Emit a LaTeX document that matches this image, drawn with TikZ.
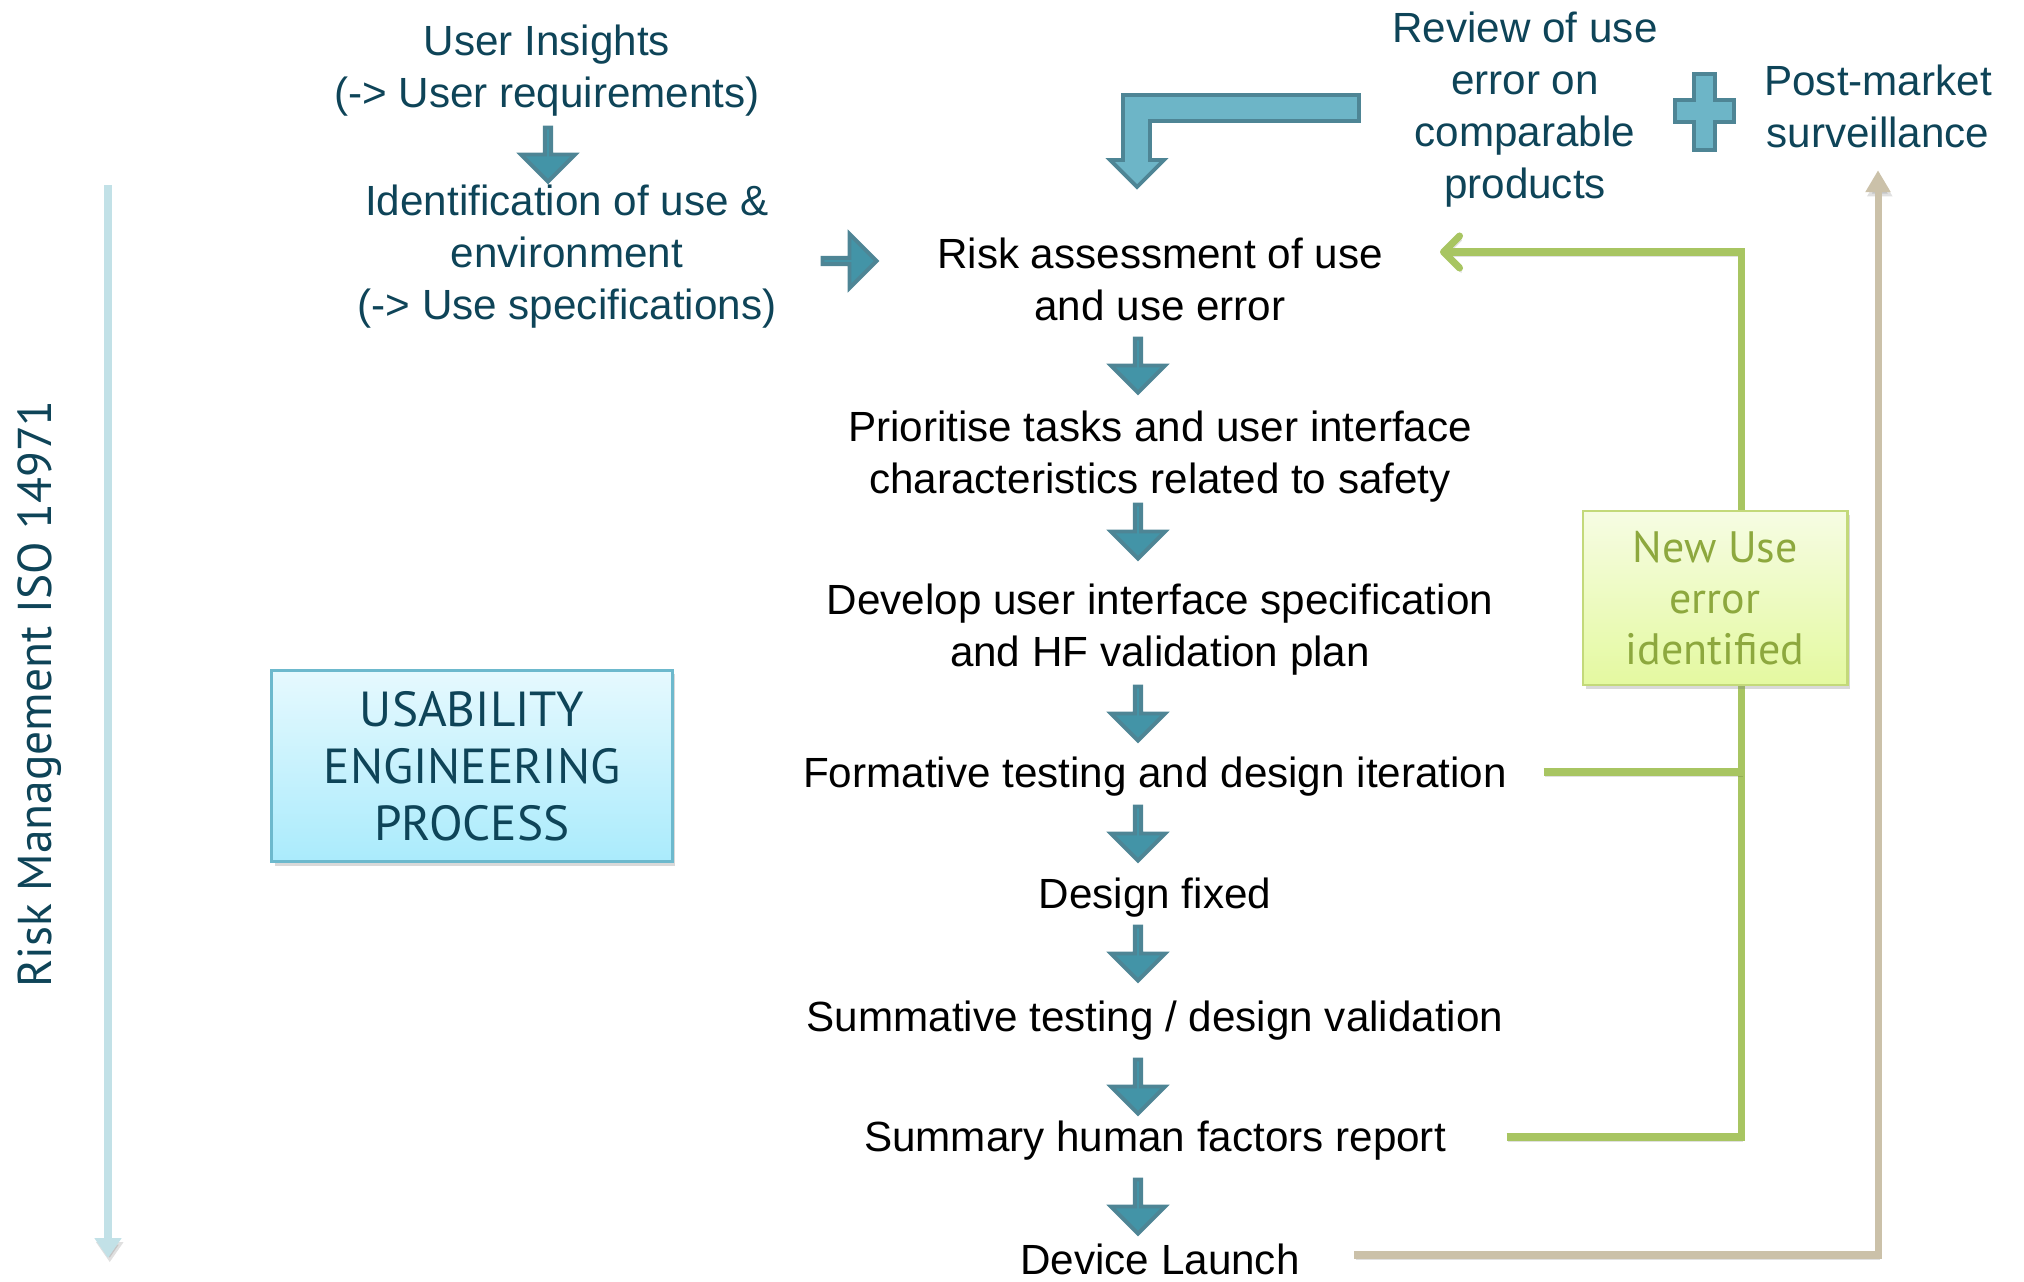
\documentclass[tikz,border=0pt]{standalone}
\usepackage{fontspec}
\setmainfont{Liberation Sans}
\newfontfamily\boxfont{PT Sans}
\usepackage{tikz}
\usetikzlibrary{shapes.arrows, arrows.meta, shadows}
\usepackage{xcolor}

\definecolor{darkteal}{HTML}{0E4458}
\definecolor{blockfill}{HTML}{4394A7}
\definecolor{blockedge}{HTML}{4E8595}
\definecolor{lightblock}{HTML}{6DB5C7}
\definecolor{fbgreen}{HTML}{A8C562}
\definecolor{pmstan}{HTML}{CBC1A9}
\definecolor{rmblue}{HTML}{C2E1E7}
\definecolor{uetop}{HTML}{E6F9FE}
\definecolor{uebot}{HTML}{AAEBFC}
\definecolor{ueedge}{HTML}{6DB9CD}
\definecolor{nuetop}{HTML}{F6FCE3}
\definecolor{nuebot}{HTML}{E4F9A0}
\definecolor{nueedge}{HTML}{C3D97A}
\definecolor{nuetext}{HTML}{8DA83E}

\begin{document}
\begin{tikzpicture}[x=0.01cm, y=-0.01cm,
  every node/.style={font=\fontsize{12}{14.8}\selectfont, align=center, inner sep=0pt},
  task/.style={text=black},
  source/.style={text=darkteal},
  block/.style={single arrow, draw=blockedge, fill=blockfill, line width=1.1pt,
    minimum height=0.54cm, minimum width=0.54cm, single arrow head extend=0.15cm},
  blockdown/.style={block, rotate=-90},
  blockright/.style={block},
  uebox/.style={draw=ueedge, line width=0.8pt, top color=uetop, bottom color=uebot,
    minimum width=4.0cm, minimum height=1.91cm, text=darkteal,
    font=\boxfont\fontsize{14}{16.2}\selectfont,
    drop shadow={shadow xshift=0.03cm, shadow yshift=-0.04cm, opacity=0.3}},
  nuebox/.style={draw=nueedge, line width=0.8pt, top color=nuetop, bottom color=nuebot,
    minimum width=2.64cm, minimum height=1.74cm, text=nuetext,
    font=\boxfont\fontsize{12.5}{14.4}\selectfont,
    drop shadow={shadow xshift=0.03cm, shadow yshift=-0.04cm, opacity=0.3}},
  lineshadow/.style={preaction={draw=black, opacity=0.12, transform canvas={xshift=0.5pt, yshift=-1.2pt}}},
  feedback/.style={draw=fbgreen, line width=2pt, lineshadow},
  market/.style={draw=pmstan, line width=2pt, lineshadow},
  riskline/.style={draw=rmblue, line width=2.3pt, lineshadow}
]
  \useasboundingbox (0,0) rectangle (2024,1282);

  % --- columns ---
  \def\xstep{1160}
  \def\xarr{1138}
  \def\xfb{1741}
  \def\xpm{1878}

  % ============================================================
  % Risk management line (left)
  % ============================================================
  \coordinate (rmtop) at (108,185);
  \coordinate (rmbot) at (108,1258);
  \draw[riskline, -{Triangle[width=0.26cm, length=0.2cm]}] (rmtop) -- (rmbot);
  \node[text=darkteal, font=\boxfont\fontsize{13.5}{16}\selectfont, rotate=90] (rmlabel) at (40,694) {Risk Management ISO 14971};

  % ============================================================
  % Inputs: user insights, use & environment
  % ============================================================
  \node[source] (insight) at (547,71) {User Insights\\(-> User requirements)};
  \node[blockdown] (dins) at (548,153) {};
  \node[source] (ident) at (567,257) {Identification of use \&\\environment\\(-> Use specifications)};
  \node[blockright] (rid) at (848,261) {};

  \node[uebox] (uep) at (472,766) {USABILITY\\ENGINEERING\\PROCESS};

  % ============================================================
  % Review of comparable products + post-market
  % ============================================================
  \node[source] (review) at (1525,110) {Review of use\\error on\\comparable\\products};
  \node[source] (pms) at (\xpm,106) {Post-market\\surveillance};

  % bent arrow into the risk assessment
  \draw[draw=blockedge, fill=lightblock, line width=1.1pt]
    (1359,95) -- (1123,95) -- (1123,160) -- (1110,160) -- (1137,187) -- (1164,160)
    -- (1150,160) -- (1150,121) -- (1359,121) -- cycle;

  % plus sign
  \draw[draw=blockedge, fill=lightblock, line width=1.1pt]
    (1694,74) -- (1715,74) -- (1715,100) -- (1734,100) -- (1734,122) -- (1715,122)
    -- (1715,150) -- (1694,150) -- (1694,122) -- (1675,122) -- (1675,100) -- (1694,100) -- cycle;

  % ============================================================
  % Process steps
  % ============================================================
  \node[task] (assess) at (\xstep,279) {Risk assessment of use\\and use error};
  \node[blockdown] (d1) at (\xarr,364) {};
  \node[task] (prio) at (\xstep,457) {Prioritise tasks and user interface\\characteristics related to safety};
  \node[blockdown] (d2) at (\xarr,530) {};
  \node[task] (uispec) at (\xstep,630) {Develop user interface specification\\and HF validation plan};
  \node[blockdown] (d3) at (\xarr,712) {};
  \node[task] (form) at (1155,777) {Formative testing and design iteration};
  \node[blockdown] (d4) at (\xarr,832) {};
  \node[task] (fixed) at (1155,898) {Design fixed};
  \node[blockdown] (d5) at (\xarr,952) {};
  \node[task] (summ) at (1155,1021) {Summative testing / design validation};
  \node[blockdown] (d6) at (\xarr,1085) {};
  \node[task] (report) at (1155,1141) {Summary human factors report};
  \node[blockdown] (d7) at (\xarr,1205) {};
  \node[task] (launch) at (\xstep,1259) {Device Launch};

  % ============================================================
  % Feedback loop (new use error) and post-market line
  % ============================================================
  \coordinate (fbtop) at (\xfb,252);
  \coordinate (fbmid) at (\xfb,772);
  \coordinate (fbbot) at (\xfb,1137);
  \coordinate (fbtip) at (1440,252);
  \draw[feedback, -{Straight Barb[length=0.16cm, width=0.32cm, round]}]
    ([xshift=0.60cm]report.east |- fbbot) -- (fbbot) -- (fbtop) -- (fbtip);
  \draw[feedback] ([xshift=0.36cm]form.east |- fbmid) -- (fbmid);

  \node[nuebox] (newerr) at (1715,598) {New Use\\error\\identified};

  \draw[market, -{Triangle[width=0.24cm, length=0.22cm]}]
    ([xshift=0.54cm, yshift=0.04cm]launch.east) -| ([yshift=-0.22cm]pms.south);

\end{tikzpicture}
\end{document}
